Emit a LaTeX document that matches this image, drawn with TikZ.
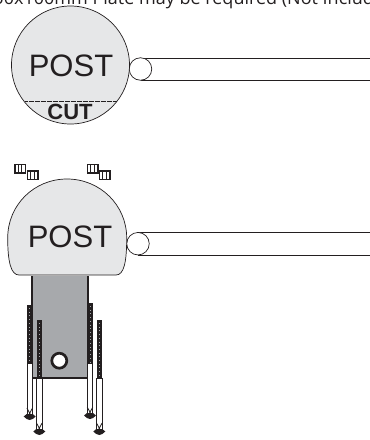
\documentclass[tikz,border=0pt]{standalone}
\usepackage{fontspec}
\setmainfont{Liberation Sans}
\newfontfamily\opensans{Open Sans}
\definecolor{postgray}{HTML}{E6E7E8}
\definecolor{plategray}{HTML}{A7A9AC}
\definecolor{ink}{HTML}{231F20}
\tikzset{
 outline/.style={draw=ink,line width=0.7pt},
 posttext/.style={font=\fontsize{31}{31}\selectfont,text=ink,inner sep=0pt},
 railline/.style={draw=ink,line width=0.8pt},
 shank/.style={draw=ink,fill=white,line width=0.7pt},
 nut/.style={draw=ink,fill=white,line width=1.1pt},
}
\newcommand{\nutshape}[2]{%
 \draw[nut] (#1+0.5,#2+0.5) rectangle ++(10.5,8.5);
 \draw[ink,line width=1pt] (#1+3.7,#2) -- ++(0,9.5) (#1+7.2,#2) -- ++(0,9.5);
}
\newcommand{\screw}[4]{% x, thread top, thread bottom, tip
 \draw[shank] (#1-2.8,#3) rectangle (#1+2.8,#4-5);
 \draw[ink,line width=5.4pt] (#1,#2) -- (#1,#3);
 \draw[plategray,line width=0.5pt,dash pattern=on 0.7pt off 3pt] (#1,#2+3) -- (#1,#3);
}
\newcommand{\screwhead}[2]{% x, tip
 \fill[ink] (#1-6,#2-3.5) -- (#1-3,#2-6) -- (#1+3,#2-6) -- (#1+6,#2-3.5) -- (#1+3,#2-1) -- (#1,#2) -- (#1-3,#2-1) -- cycle;
 \draw[ink,line width=0.8pt] (#1-2.8,#2-12) -- (#1+1.5,#2-4) (#1+2.8,#2-12) -- (#1-1.5,#2-4);
}
\begin{document}
\begin{tikzpicture}[x=1pt,y=-1pt]
\useasboundingbox (0,0) rectangle (370,440);
\begin{scope}
\clip (0,0) rectangle (370,440);
\node[anchor=base west,inner sep=0pt,font=\opensans\fontsize{18}{18}\selectfont,text=ink] (note) at (-6.7,4.2) {50x100mm Plate may be required (Not Included)};
\end{scope}
% top rail
\draw[railline] (141,58) -- (370,58);
\draw[railline] (141,80) -- (370,80);
\node[circle,draw=ink,fill=white,line width=0.7pt,minimum size=22.5pt,inner sep=0pt] (capa) at (140.5,69) {};
% top post
\node[circle,outline,fill=postgray,minimum size=118pt,inner sep=0pt] (posta) at (70.5,65) {};
\node[posttext] (posttexta) at (71,65.5) {POST};
\draw[ink,line width=0.6pt,dash pattern=on 0.7pt off 0.5pt] (25,101.5) -- (117,101.5);
\node[inner sep=0pt,font=\bfseries\fontsize{22}{22}\selectfont,text=ink] (cut) at (70,112) {CUT};
% lower rail
\draw[railline] (138,232.5) -- (370,232.5);
\draw[railline] (138,255) -- (370,255);
\node[circle,draw=ink,fill=white,line width=0.7pt,minimum size=22.5pt,inner sep=0pt] (capb) at (138,243.7) {};
% nuts
\nutshape{14.5}{164}
\nutshape{27}{170.5}
\nutshape{87}{164}
\nutshape{99}{170.5}
% plate
\fill[plategray] (32,276) rectangle (88,378);
\draw[ink,line width=1.6pt] (32,276) -- (32,378) -- (88,378) -- (88,276);
% screws
\screw{29.7}{305}{363}{420}
\screw{39.3}{320}{378}{435}
\screw{90}{303}{363}{419}
\screw{99.3}{320}{378}{435}
\screwhead{29.7}{420}
\screwhead{39.3}{435}
\screwhead{90}{419}
\screwhead{99.3}{435}
\node[circle,draw=ink,line width=2.7pt,fill=white,minimum size=15pt,inner sep=0pt] (hole) at (59.3,360.7) {};
% lower post
\path[outline,fill=postgray,draw] (19,275) .. controls (11,275) and (7.7,262) .. (7.7,238) .. controls (7.7,205) and (34,179) .. (67,179) .. controls (100,179) and (126.7,205) .. (126.7,238) .. controls (126.7,262) and (124,275) .. (116,275) -- cycle;
\node[posttext] (posttextb) at (70,237) {POST};
\end{tikzpicture}
\end{document}
